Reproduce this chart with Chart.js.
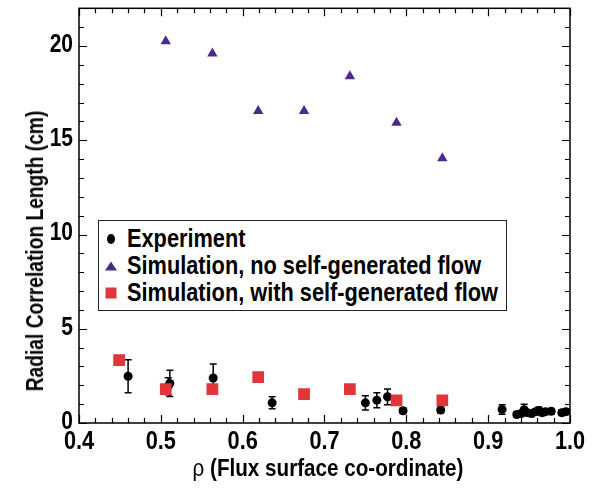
<!DOCTYPE html>
<html>
<head>
<meta charset="utf-8">
<script src="https://cdn.jsdelivr.net/npm/chart.js@4.4.1/dist/chart.umd.min.js"></script>
<style>
  html, body { margin: 0; padding: 0; background: #fff; }
  #wrap { position: relative; width: 592px; height: 488px; font-family: 'Liberation Sans', Arial, sans-serif; font-weight: bold; color: #000; }
  #chart { position: absolute; left: 0; top: 0; }
  .ytitle { position: absolute; left: 35px; top: 251px; transform: translate(-50%, -50%) rotate(-90deg) scaleX(0.8); white-space: nowrap; font-size: 24px; }
  .xtitle { position: absolute; left: 328px; top: 468px; transform: translate(-50%, -50%) scaleX(0.86); white-space: nowrap; font-size: 24px; }
  .xtitle .rho { font-weight: normal; }
  #legend { position: absolute; left: 98px; top: 220px; width: 409px; height: 91px; border: 1.5px solid #222; background: #fff; padding-top: 4px; box-sizing: border-box; }
  #legend .item { height: 27px; line-height: 27px; font-size: 25px; position: relative; padding-left: 28px; white-space: nowrap; }
  #legend .item .txt { display: inline-block; transform: scaleX(0.87); transform-origin: left center; }
  #legend .mk { position: absolute; left: 12px; top: 50%; transform: translate(-50%, -50%); }
  .mk.circle { width: 8px; height: 10px; border-radius: 50%; background: #000; }
  .mk.tri { width: 0; height: 0; border-left: 6px solid transparent; border-right: 6px solid transparent; border-bottom: 9px solid #4b2a8c; }
  .mk.sq { width: 11px; height: 11px; background: #e0353b; }
</style>
</head>
<body>
<div id="wrap">
  <canvas id="chart" width="592" height="488"></canvas>
  <div class="ytitle">Radial Correlation Length (cm)</div>
  <div class="xtitle"><span class="rho">ρ</span> (Flux surface co-ordinate)</div>
  <div id="legend">
    <div class="item"><span class="mk circle"></span><span class="txt">Experiment</span></div>
    <div class="item"><span class="mk tri"></span><span class="txt">Simulation, no self-generated flow</span></div>
    <div class="item"><span class="mk sq"></span><span class="txt">Simulation, with self-generated flow</span></div>
  </div>
</div>
<script>
// simulation without self-generated flow (triangles)
const simNoFlowRho = [0.506, 0.563, 0.619, 0.675, 0.731, 0.788, 0.844];
const simNoFlowVal = [20.25, 19.6, 16.55, 16.55, 18.4, 15.93, 14.05];

// simulation with self-generated flow (squares)
const simFlowRho = [0.449, 0.506, 0.563, 0.619, 0.675, 0.731, 0.788, 0.844];
const simFlowVal = [3.33, 1.8, 1.8, 2.43, 1.53, 1.8, 1.2, 1.2];

// experiment with error bars
const expRho = [0.46, 0.509, 0.511, 0.564, 0.636, 0.75, 0.764, 0.777, 0.796, 0.842, 0.917,
                0.935, 0.94, 0.944, 0.948, 0.953, 0.958, 0.962, 0.966, 0.97, 0.977, 0.99, 0.995];
const expVal = [2.48, 1.95, 2.1, 2.39, 1.07, 1.07, 1.21, 1.39, 0.65, 0.69, 0.72,
                0.45, 0.5, 0.7, 0.55, 0.5, 0.6, 0.65, 0.55, 0.6, 0.62, 0.55, 0.6];
const expErr = [0.87, 0.45, 0.7, 0.74, 0.32, 0.38, 0.4, 0.42, 0.15, 0.15, 0.25,
                0.15, 0.15, 0.3, 0.15, 0.15, 0.15, 0.2, 0.15, 0.15, 0.15, 0.15, 0.15];

const xTicks = [0.4, 0.5, 0.6, 0.7, 0.8, 0.9, 1.0];
const yTicks = [0, 5, 10, 15, 20];

const labelFont = "bold 25px 'Liberation Sans', Arial, sans-serif";

function pts(xs, ys) { return xs.map((x, i) => ({ x: x, y: ys[i] })); }

// squeezed text, the reference uses a condensed face
function narrowText(ctx, text, x, y, align, sx) {
  ctx.save();
  ctx.translate(x, y);
  ctx.scale(sx, 1);
  ctx.textAlign = align;
  ctx.fillText(text, 0, 0);
  ctx.restore();
}

// frame, inward ticks, tick labels and error bars
const framePlugin = {
  id: 'frame',
  beforeDatasetsDraw(chart) {
    const ctx = chart.ctx, xs = chart.scales.x, ys = chart.scales.y;
    ctx.save();
    ctx.strokeStyle = '#000';
    ctx.lineWidth = 1.5;
    expRho.forEach((r, i) => {
      const px = xs.getPixelForValue(r);
      const top = ys.getPixelForValue(expVal[i] + expErr[i]);
      const bot = ys.getPixelForValue(expVal[i] - expErr[i]);
      ctx.beginPath();
      ctx.moveTo(px, top); ctx.lineTo(px, bot);
      ctx.moveTo(px - 3.5, top); ctx.lineTo(px + 3.5, top);
      ctx.moveTo(px - 3.5, bot); ctx.lineTo(px + 3.5, bot);
      ctx.stroke();
    });
    ctx.restore();
  },
  afterDraw(chart) {
    const ctx = chart.ctx, a = chart.chartArea, xs = chart.scales.x, ys = chart.scales.y;
    ctx.save();
    ctx.strokeStyle = '#000';
    ctx.lineWidth = 1.5;
    ctx.strokeRect(a.left, a.top, a.right - a.left, a.bottom - a.top);
    ctx.lineWidth = 1.2;
    ctx.beginPath();
    for (let i = 0; i <= 30; i++) {
      const px = Math.round(xs.getPixelForValue(0.4 + i * 0.02)) + 0.5;
      const len = i % 5 === 0 ? 8 : 5;
      ctx.moveTo(px, a.bottom); ctx.lineTo(px, a.bottom - len);
      ctx.moveTo(px, a.top); ctx.lineTo(px, a.top + len);
    }
    for (let v = 0; v <= 22; v++) {
      const py = Math.round(ys.getPixelForValue(v)) + 0.5;
      const len = v % 5 === 0 ? 8 : 5;
      ctx.moveTo(a.left, py); ctx.lineTo(a.left + len, py);
      ctx.moveTo(a.right, py); ctx.lineTo(a.right - len, py);
    }
    ctx.stroke();

    ctx.fillStyle = '#000';
    ctx.font = labelFont;
    ctx.textBaseline = 'middle';
    xTicks.forEach(v => narrowText(ctx, v.toFixed(1), xs.getPixelForValue(v), a.bottom + 19, 'center', 0.87));
    yTicks.forEach(v => narrowText(ctx, String(v), a.left - 6, ys.getPixelForValue(v) - 1, 'right', 0.84));
    ctx.restore();
  }
};

new Chart(document.getElementById('chart').getContext('2d'), {
  type: 'scatter',
  data: {
    datasets: [
      {
        label: 'Simulation, with self-generated flow',
        data: pts(simFlowRho, simFlowVal),
        pointStyle: 'rect',
        pointRadius: 8.3,
        backgroundColor: '#e0353b',
        borderColor: '#e0353b',
        borderWidth: 0,
        order: 0
      },
      {
        label: 'Simulation, no self-generated flow',
        data: pts(simNoFlowRho, simNoFlowVal),
        pointStyle: 'triangle',
        pointRadius: 6,
        backgroundColor: '#4b2a8c',
        borderColor: '#4b2a8c',
        borderWidth: 0,
        order: 1
      },
      {
        label: 'Experiment',
        data: pts(expRho, expVal),
        pointStyle: 'circle',
        pointRadius: 4.5,
        backgroundColor: '#000',
        borderColor: '#000',
        borderWidth: 0,
        order: 2
      }
    ]
  },
  options: {
    responsive: false,
    animation: false,
    layout: { padding: { left: 0, top: 8, right: 22, bottom: 0 } },
    plugins: { legend: { display: false }, tooltip: { enabled: false } },
    scales: {
      x: {
        type: 'linear',
        min: 0.4,
        max: 1.0,
        grid: { display: false, drawTicks: false },
        border: { display: false },
        afterBuildTicks: s => { s.ticks = xTicks.map(v => ({ value: v })); },
        afterFit: s => { s.height = 65; },
        ticks: { display: false }
      },
      y: {
        min: 0,
        max: 22,
        grid: { display: false, drawTicks: false },
        border: { display: false },
        afterBuildTicks: s => { s.ticks = yTicks.map(v => ({ value: v })); },
        afterFit: s => { s.width = 79; },
        ticks: { display: false }
      }
    }
  },
  plugins: [framePlugin]
});
</script>
</body>
</html>
